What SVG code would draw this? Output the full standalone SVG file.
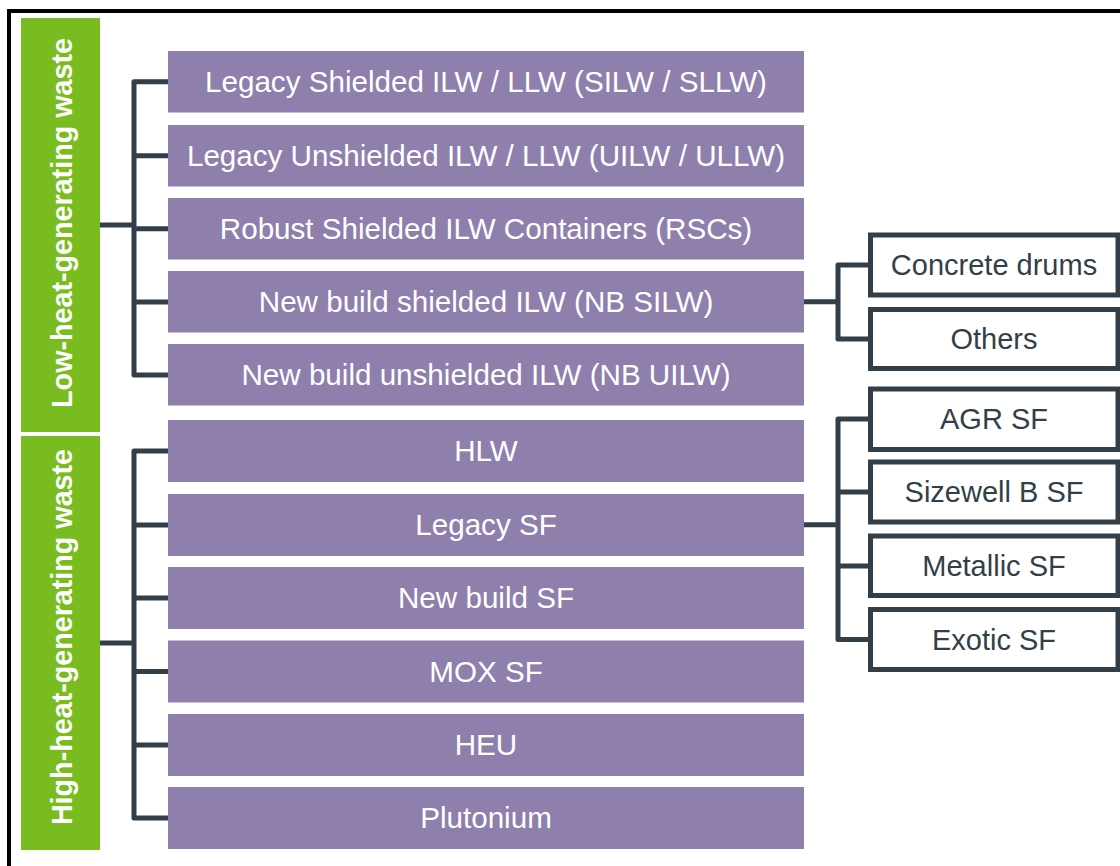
<svg xmlns="http://www.w3.org/2000/svg" width="1120" height="866" viewBox="0 0 1120 866">
<style>
.cat{fill:#78bc20}
.cat-t{fill:#fff;font-family:"Liberation Sans",Arial,sans-serif;font-weight:bold;font-size:28.7px;text-anchor:middle}
.box{fill:#8e7fad}
.box-t{fill:#fff;font-family:"Liberation Sans",Arial,sans-serif;font-size:29.6px;text-anchor:middle}
.obox{fill:#fff;stroke:#333f48;stroke-width:5}
.obox-t{fill:#333f48;font-family:"Liberation Sans",Arial,sans-serif;font-size:29px;text-anchor:middle}
.conn{fill:none;stroke:#333f48;stroke-width:5;stroke-linejoin:round}
</style>
<rect x="0" y="0" width="1120" height="866" fill="#fff"/>
<rect x="9" y="11" width="1200" height="900" fill="none" stroke="#000" stroke-width="4"/>
<g id="connectors">
<path class="conn" d="M168 81.75 H134 V375 H168 M134 155.75 H168 M134 228.75 H168 M134 302 H168 M100 225 H134"/>
<path class="conn" d="M168 451 H134 V818 H168 M134 525 H168 M134 598 H168 M134 671.5 H168 M134 745 H168 M100 643 H134"/>
<path class="conn" d="M870 265 H838 V339 H870 M804 301.75 H838"/>
<path class="conn" d="M870 419 H838 V639.5 H870 M838 492 H870 M838 566 H870 M804 524.75 H838"/>
</g>
<g id="low-heat">
<rect class="cat" x="21" y="18" width="79" height="414"/>
<text class="cat-t" transform="translate(72,223) rotate(-90)">Low-heat-generating waste</text>
</g>
<g id="high-heat">
<rect class="cat" x="21" y="436" width="79" height="414"/>
<text class="cat-t" transform="translate(72,637) rotate(-90)">High-heat-generating waste</text>
</g>
<g id="n1"><rect class="box" x="168" y="51" width="636" height="61.5"/><text class="box-t" x="486" y="92">Legacy Shielded ILW / LLW (SILW / SLLW)</text></g>
<g id="n2"><rect class="box" x="168" y="125" width="636" height="61.5"/><text class="box-t" x="486" y="166">Legacy Unshielded ILW / LLW (UILW / ULLW)</text></g>
<g id="n3"><rect class="box" x="168" y="198" width="636" height="61.5"/><text class="box-t" x="486" y="239">Robust Shielded ILW Containers (RSCs)</text></g>
<g id="n4"><rect class="box" x="168" y="271" width="636" height="61.5"/><text class="box-t" x="486" y="312">New build shielded ILW (NB SILW)</text></g>
<g id="n5"><rect class="box" x="168" y="344" width="636" height="61.5"/><text class="box-t" x="486" y="385">New build unshielded ILW (NB UILW)</text></g>
<g id="n6"><rect class="box" x="168" y="420" width="636" height="62"/><text class="box-t" x="486" y="461">HLW</text></g>
<g id="n7"><rect class="box" x="168" y="494" width="636" height="62"/><text class="box-t" x="486" y="535">Legacy SF</text></g>
<g id="n8"><rect class="box" x="168" y="567" width="636" height="62"/><text class="box-t" x="486" y="608">New build SF</text></g>
<g id="n9"><rect class="box" x="168" y="640.5" width="636" height="62"/><text class="box-t" x="486" y="681.5">MOX SF</text></g>
<g id="n10"><rect class="box" x="168" y="714" width="636" height="62"/><text class="box-t" x="486" y="755">HEU</text></g>
<g id="n11"><rect class="box" x="168" y="787" width="636" height="62"/><text class="box-t" x="486" y="828">Plutonium</text></g>
<g id="r1"><rect class="obox" x="870.5" y="235" width="247.5" height="60"/><text class="obox-t" x="994" y="275">Concrete drums</text></g>
<g id="r2"><rect class="obox" x="870.5" y="309.5" width="247.5" height="59"/><text class="obox-t" x="994" y="349">Others</text></g>
<g id="r3"><rect class="obox" x="870.5" y="389" width="247.5" height="60.5"/><text class="obox-t" x="994" y="429">AGR SF</text></g>
<g id="r4"><rect class="obox" x="870.5" y="462" width="247.5" height="60"/><text class="obox-t" x="994" y="502">Sizewell B SF</text></g>
<g id="r5"><rect class="obox" x="870.5" y="536" width="247.5" height="59.5"/><text class="obox-t" x="994" y="576">Metallic SF</text></g>
<g id="r6"><rect class="obox" x="870.5" y="609.5" width="247.5" height="60"/><text class="obox-t" x="994" y="649.5">Exotic SF</text></g>
</svg>
